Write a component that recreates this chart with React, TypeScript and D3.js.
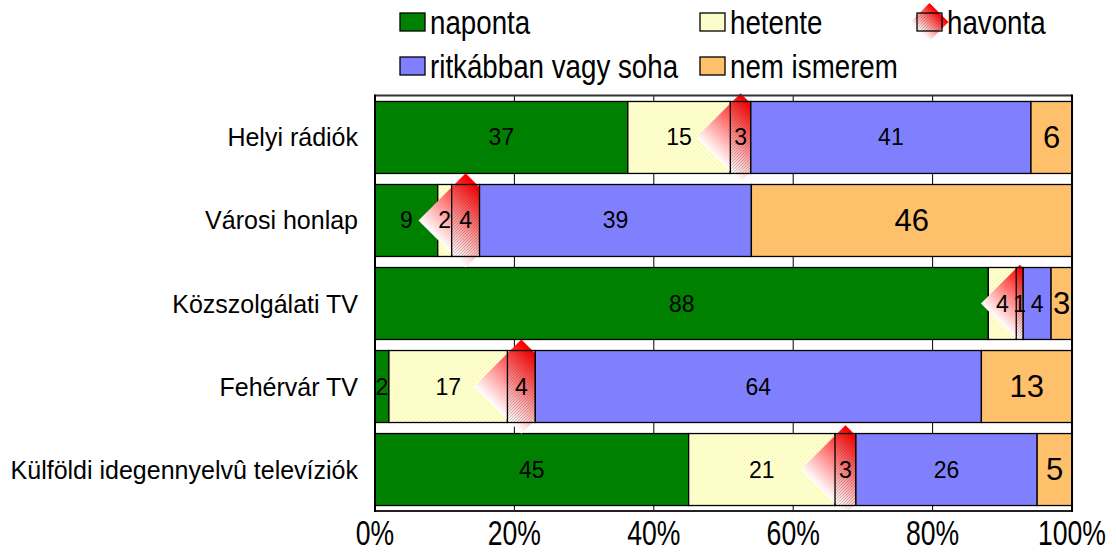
import React from "react";
import * as d3 from "d3";

const categories = [
  "Helyi rádiók",
  "Városi honlap",
  "Közszolgálati TV",
  "Fehérvár TV",
  "Külföldi idegennyelvû televíziók",
];
const seriesNames = ["naponta", "hetente", "havonta", "ritkábban vagy soha", "nem ismerem"];
const naponta = [37, 9, 88, 2, 45];
const hetente = [15, 2, 4, 17, 21];
const havonta = [3, 4, 1, 4, 3];
const ritkabban = [41, 39, 4, 64, 26];
const nemIsmerem = [6, 46, 3, 13, 5];
const xTicks = [0, 0.2, 0.4, 0.6, 0.8, 1];

const seriesValues = [naponta, hetente, havonta, ritkabban, nemIsmerem];
const fills = ["#008000", "url(#hetentePat)", "url(#havontaPat)", "#8080FF", "#FFC06C"];

const W = 1116;
const H = 554;
const plot = { left: 375, right: 1072, top: 96, bottom: 511 };
const FONT = "'Liberation Sans', Arial, sans-serif";

export default function App() {
  const rows = categories.map((c, i) => {
    const r: any = { cat: c };
    seriesNames.forEach((s, j) => (r[s] = seriesValues[j][i]));
    return r;
  });
  const stacked = d3.stack<any>().keys(seriesNames).offset(d3.stackOffsetExpand)(rows);

  const x = d3.scaleLinear().domain([0, 1]).range([plot.left, plot.right]);
  const y = d3
    .scaleBand<string>()
    .domain(categories)
    .range([plot.top, plot.bottom])
    .paddingInner(0.133)
    .paddingOuter(0.066);
  const bh = y.bandwidth();

  const diamond = (cx: number, cy: number, r: number) =>
    `${cx},${cy - r} ${cx + r},${cy} ${cx},${cy + r} ${cx - r},${cy}`;

  const marks: React.ReactNode[] = [];
  const labels: React.ReactNode[] = [];
  stacked.forEach((layer, j) => {
    layer.forEach((seg, i) => {
      const x0 = x(seg[0]);
      const x1 = x(seg[1]);
      const y0 = y(categories[i])!;
      const w = x1 - x0;
      const cx = (x0 + x1) / 2;
      const cy = y0 + bh / 2;
      if (j === 2) {
        const r = bh / 2 + w * 0.4;
        marks.push(
          <polygon key={`d${i}`} points={diamond(cx, cy, r)} fill="url(#diaGrad)" />
        );
      }
      marks.push(
        <rect
          key={`r${j}-${i}`}
          x={x0}
          y={y0}
          width={w}
          height={bh}
          fill={fills[j]}
          stroke="#000"
          strokeWidth={1.3}
        />
      );
      const big = j === 4;
      labels.push(
        <text
          key={`t${j}-${i}`}
          x={cx}
          y={cy}
          textAnchor="middle"
          dominantBaseline="central"
          fontSize={big ? 31 : 23}
          fontFamily={FONT}
          fill="#000"
        >
          {seriesValues[j][i]}
        </text>
      );
    });
  });

  const legendItems = [
    { name: seriesNames[0], x: 400, y: 22, j: 0 },
    { name: seriesNames[1], x: 700, y: 22, j: 1 },
    { name: seriesNames[2], x: 917, y: 22, j: 2 },
    { name: seriesNames[3], x: 400, y: 66, j: 3 },
    { name: seriesNames[4], x: 700, y: 66, j: 4 },
  ];
  const sw = 25;
  const sh = 18;

  return (
    <svg width={W} height={H} style={{ position: "absolute", left: 0, top: 0 }}>
      <defs>
        <linearGradient id="diaGrad" x1="1" y1="0" x2="0" y2="1">
          <stop offset="0.27" stopColor="#FF0000" />
          <stop offset="0.75" stopColor="#FFFFFF" />
        </linearGradient>
        <pattern id="hetentePat" width="4" height="4" patternUnits="userSpaceOnUse">
          <rect width="4" height="4" fill="#FFFFCC" />
          <rect x="0" y="0" width="1" height="1" fill="#EEEEB8" />
          <rect x="2" y="2" width="1" height="1" fill="#EEEEB8" />
        </pattern>
        <pattern id="havontaPat" width="3" height="3" patternUnits="userSpaceOnUse">
          <path d="M-1,1 L1,-1 M0,3 L3,0 M2,4 L4,2" stroke="rgba(70,70,70,0.4)" strokeWidth={0.7} />
        </pattern>
      </defs>
      <rect width={W} height={H} fill="#fff" />

      {/* gridlines */}
      {xTicks.slice(1, -1).map((t) => (
        <line key={t} x1={x(t)} x2={x(t)} y1={plot.top} y2={plot.bottom} stroke="#000" strokeWidth={1} />
      ))}

      {marks}

      {/* plot border */}
      <line x1={plot.left} x2={plot.right} y1={plot.top - 0.5} y2={plot.top - 0.5} stroke="#333" strokeWidth={2} />
      <line x1={plot.left} x2={plot.right} y1={plot.bottom} y2={plot.bottom} stroke="#222" strokeWidth={2} />
      <line x1={plot.left} x2={plot.left} y1={plot.top - 1.5} y2={plot.bottom + 1} stroke="#000" strokeWidth={2} />
      <line x1={plot.right} x2={plot.right} y1={plot.top - 1.5} y2={plot.bottom + 1} stroke="#000" strokeWidth={2} />

      {labels}

      {/* category labels */}
      {categories.map((c) => (
        <text
          key={c}
          x={358}
          y={y(c)! + bh / 2}
          textAnchor="end"
          dominantBaseline="central"
          fontSize={25}
          fontFamily={FONT}
          fill="#000"
        >
          {c}
        </text>
      ))}

      {/* x axis labels */}
      {xTicks.map((t) => (
        <g key={t} transform={`translate(${x(t)},545) scale(0.76,1)`}>
          <text textAnchor="middle" fontSize={35} fontFamily={FONT} fill="#000">
            {d3.format(".0%")(t)}
          </text>
        </g>
      ))}

      {/* legend */}
      {legendItems.map((it) => (
        <g key={it.name}>
          {it.j === 2 && (
            <polygon
              points={diamond(it.x + sw / 2, it.y, sh / 2 + sw * 0.4)}
              fill="url(#diaGrad)"
            />
          )}
          <rect
            x={it.x}
            y={it.y - sh / 2}
            width={sw}
            height={sh}
            fill={fills[it.j]}
            stroke="#000"
            strokeWidth={1.3}
          />
          <g transform={`translate(${it.x + sw + 5},${it.y + 12}) scale(0.84,1)`}>
            <text fontSize={33} fontFamily={FONT} fill="#000">
              {it.name}
            </text>
          </g>
        </g>
      ))}
    </svg>
  );
}
